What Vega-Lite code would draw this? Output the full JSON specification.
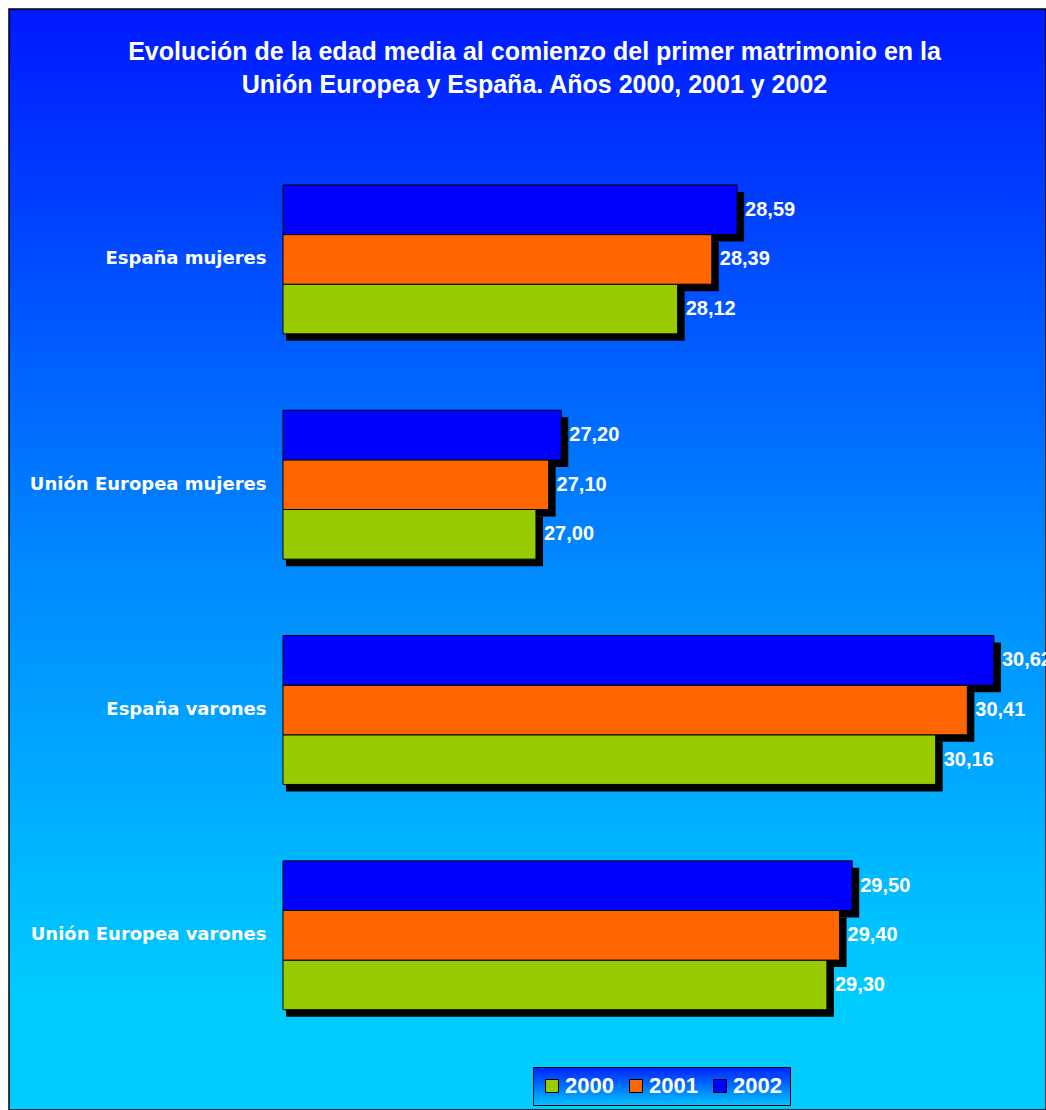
{
  "$schema": "https://vega.github.io/schema/vega-lite/v6.json",
  "width": 1037,
  "height": 1101,
  "autosize": "none",
  "padding": {"left": 9, "top": 9, "right": 0, "bottom": 0},
  "background": "white",
  "config": {
    "locale": {"number": {"decimal": ",", "thousands": ".", "grouping": [3], "currency": ["", " €"]}}
  },
  "view": {
    "fill": {"gradient": "linear", "x1": 0, "y1": 0, "x2": 0, "y2": 1,
      "stops": [{"offset": 0, "color": "#0018ff"}, {"offset": 0.5, "color": "#0088ff"}, {"offset": 0.9, "color": "#00ccff"}, {"offset": 1, "color": "#00ccff"}]},
    "stroke": "black",
    "strokeWidth": 1.5
  },
  "title": {
    "text": ["Evolución de la edad media al comienzo del primer matrimonio en la", "Unión Europea y España. Años 2000, 2001 y 2002"],
    "font": "Liberation Sans",
    "fontSize": 25,
    "fontWeight": "bold",
    "color": "white",
    "anchor": "middle",
    "baseline": "top",
    "lineHeight": 33,
    "offset": -89,
    "dx": 7
  },
  "data": {
    "values": [
      {"grupo": "España mujeres", "anio": "2000", "edad": 28.12},
      {"grupo": "España mujeres", "anio": "2001", "edad": 28.39},
      {"grupo": "España mujeres", "anio": "2002", "edad": 28.59},
      {"grupo": "Unión Europea mujeres", "anio": "2000", "edad": 27.00},
      {"grupo": "Unión Europea mujeres", "anio": "2001", "edad": 27.10},
      {"grupo": "Unión Europea mujeres", "anio": "2002", "edad": 27.20},
      {"grupo": "España varones", "anio": "2000", "edad": 30.16},
      {"grupo": "España varones", "anio": "2001", "edad": 30.41},
      {"grupo": "España varones", "anio": "2002", "edad": 30.62},
      {"grupo": "Unión Europea varones", "anio": "2000", "edad": 29.30},
      {"grupo": "Unión Europea varones", "anio": "2001", "edad": 29.40},
      {"grupo": "Unión Europea varones", "anio": "2002", "edad": 29.50}
    ]
  },
  "encoding": {
    "y": {
      "field": "grupo", "type": "nominal",
      "sort": ["España mujeres", "Unión Europea mujeres", "España varones", "Unión Europea varones"],
      "scale": {"paddingInner": 0.339, "paddingOuter": 0.613, "align": 0.637},
      "axis": {
        "title": null, "domain": false, "ticks": false, "tickSize": 0,
        "labelPadding": 17, "offset": -274,
        "labelFont": "DejaVu Sans", "labelFontWeight": "bold", "labelFontSize": 18,
        "labelColor": "white", "labelLimit": 400
      }
    },
    "x": {
      "field": "edad", "type": "quantitative",
      "scale": {"domain": [22.834, 31.032], "zero": false, "nice": false},
      "axis": null
    }
  },
  "resolve": {"scale": {"yOffset": "independent"}},
  "layer": [
    {
      "mark": {"type": "bar", "color": "black", "xOffset": 7, "x2Offset": 3},
      "encoding": {
        "x2": {"datum": 25},
        "yOffset": {
          "field": "anio", "type": "nominal",
          "sort": ["2002", "2001", "2000"],
          "scale": {"paddingInner": 0, "paddingOuter": 0, "range": [7, 155.92]}
        }
      }
    },
    {
      "layer": [
        {
          "mark": {"type": "bar", "stroke": "black", "strokeWidth": 1},
          "encoding": {
            "x2": {"datum": 25},
            "color": {
              "field": "anio", "type": "nominal",
              "scale": {"domain": ["2000", "2001", "2002"], "range": ["#99cc00", "#ff6600", "#0000ff"]},
              "legend": {
                "title": null,
                "orient": "none",
                "legendX": 524,
                "legendY": 1058,
                "direction": "horizontal",
                "symbolType": "square",
                "symbolSize": 169,
                "symbolStrokeColor": "black",
                "symbolStrokeWidth": 1,
                "symbolOpacity": 1,
                "labelFont": "Liberation Sans",
                "labelFontWeight": "bold",
                "labelFontSize": 22,
                "labelColor": "white",
                "labelOffset": 2,
                "columnPadding": 11,
                "padding": 8,
                "strokeColor": "black",
                "encode": {
                  "legend": {
                    "update": {
                      "fill": {"value": {"gradient": "linear", "x1": 0, "y1": 0, "x2": 0, "y2": 1,
                        "stops": [{"offset": 0, "color": "#0022ff"}, {"offset": 1, "color": "#00c4ff"}]}}
                    }
                  }
                }
              }
            }
          }
        },
        {
          "mark": {"type": "text", "align": "left", "baseline": "middle", "dx": 8,
            "font": "Liberation Sans", "fontWeight": "bold", "fontSize": 20, "color": "white"},
          "encoding": {
            "text": {"field": "edad", "type": "quantitative", "format": ".2f"}
          }
        }
      ],
      "encoding": {
        "yOffset": {
          "field": "anio", "type": "nominal",
          "sort": ["2002", "2001", "2000"],
          "scale": {"paddingInner": 0, "paddingOuter": 0}
        }
      }
    }
  ]
}
